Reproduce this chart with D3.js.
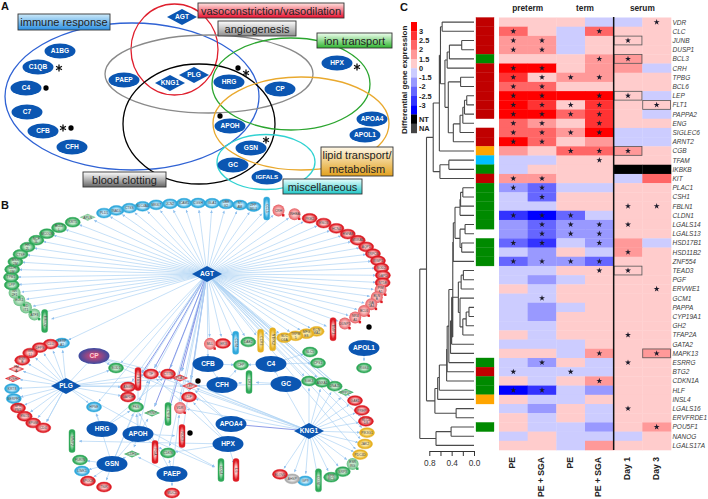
<!DOCTYPE html>
<html>
<head>
<meta charset="utf-8">
<script src="https://cdn.jsdelivr.net/npm/d3@7"></script>
<style>
  html, body { margin: 0; padding: 0; background: #fff; }
  svg { display: block; }
  text { font-family: "Liberation Sans", Arial, sans-serif; }
</style>
</head>
<body>
<div id="chart"></div>
<script>
// ---- panel C data ----
const genes = ["VDR","CLC","JUNB","DUSP1","BCL3","CRH","TPBG","BCL6","LEP","FLT1","PAPPA2","ENG","SIGLEC6","ARNT2","CGB","TFAM","IKBKB","KIT","PLAC1","CSH1","FBLN1","CLDN1","LGALS14","LGALS13","HSD17B1","HSD11B2","ZNF554","TEAD3","PGF","ERVWE1","GCM1","PAPPA","CYP19A1","GH2","TFAP2A","GATA2","MAPK13","ESRRG","BTG2","CDKN1A","HLF","INSL4","LGALS16","ERVFRDE1","POU5F1","NANOG","LGALS17A"];
const columns = ["PE","PE + SGA","PE ","PE + SGA ","Day 1","Day 3"];
const groups = ["preterm","term","serum"];
const heatValues = [
  [1,1,1,-1,-1,1],[2,1,-1,2,1,1],[1.5,1.5,-1,1,1,1],[1.5,1.5,-1,1,1,1],[1,1,1,1.5,1.5,1],
  [3,3,1,1.5,1.5,-1],[2.5,1,1.5,1.5,1,1],[2,2,1,1,1,1],[3,3,3,3,1,-1],[3,2.5,1,2.5,1,1],
  [3,3,2,2.5,1,-1],[2,1.5,1,2.5,1,1],[2,2,1.5,3,-1,-1],[3,2,1,1.5,-1,-1],[1.5,1,2,2,1.5,1],
  [-1,-1,1,1,1,1],[-1,1,1,1,"NT","NT"],[1.5,1.5,1,1,-1,2],[-1.5,-2,-1,-1,1,1],[-1,-2,1,1,1,1],
  [-1,-1,1,1,1,1],[-2.5,-3,-2,-1,1,1],[-1.5,-2,-1.5,-1.5,1,1],[-1.5,-2,-1.5,-1.5,1,1],[-2,-2.5,-1,-1.5,1.5,-1],
  [-1,-1.5,1,-1,1.5,1],[-2,-1.5,-1.5,-2,1,1],[-1,-1,1,1,1,1],[-1,-1.5,-1,1,1,1],[1,-1,1,1,1,1],
  [-1,-1,1,1,1,1],[-1,-1.5,-1,1,1,1],[-1,-1.5,1,1,1,1],[-1,-1,1,1,1,1],[1,-1,1,1,1,1],
  [-1,-1,-1,1,1,1],[1,1,-1,1.5,1,1.5],[-1,-1.5,1,-1,1,1],[-1,-1,-1,-1,1,1],[1,-1,1,1.5,1,1],
  [-3,-2.5,-1,-1.5,1,1],[1,-1,-1,1,1,1],[-1,-1.5,1,-1,1,1],[1,-1,1,-1,1,1],[1,-1,-1,-1.5,1,1.5],
  [-1,1,-1,-1,-1,1],[1,1,-1,1.5,1,1]
];
// columns holding a star, same order as genes
const starCols = [[5],[0,3],[0,1,4],[0,1],[3,4],[0,1],[0,1,2,3],[0,1],[0,1,3,4],[0,1,2,3,5],[0,1,2,3],[0,1,3],[0,1,2,3],[0,1],[2,3,4],[3],[],[0,1],[0,1],[1],[4,5],[0,1,2],[1,2,3,4],[1,2,3],[0,1,3],[4],[0,1,2,3],[3,4],[],[5],[1],[],[],[],[4],[],[3,5],[1,4],[0,2],[3],[0,1],[],[4],[],[5],[],[]];
const boxCells = [["JUNB",4],["BCL3",4],["LEP",4],["FLT1",5],["CGB",4],["TEAD3",4],["MAPK13",5]];
const geneClass = ["r","r","r","r","g","r","r","r","r","r","r","","r","r","o","c","g","r","g","g","g","g","g","","g","g","g","","","","","","","","","","","g","r","g","g","o","","","g","",""];
const legendLevels = [3,2.5,2,1.5,1,-1,-1.5,-2,-2.5,-3,"NT","NA"];
const legendLabels = ["3","2.5","2","1.5","0","-1.5","-2","-2.5","-3"];
const levelColors = ["#ff0000","#ff3333","#ff6666","#ff9999","#ffcccc","#ccccff","#9999ff","#6666ff","#3333ff","#0000ff","#000000","#444444"];
const dendroTicks = [0, 0.2, 0.4, 0.6, 0.8];
// merge heights read from the tree, [height, child, child...]
const dendroTree = [0.97,
  [0.85,
    [0.73,
      [0.62,
        [0.6, [0.57,"VDR","CLC"],
          [0.52,
            [0.48,[0.44,[0.22,"JUNB","DUSP1"],"BCL3"],"CRH"],
            [0.46,[0.24,"TPBG","BCL6"],
              [0.37,[0.25,[0.2,[0.17,[0.13,"LEP","FLT1"],"PAPPA2"],"ENG"],"SIGLEC6"],"ARNT2"]]]],
        "CGB"],
      [0.61,[0.45,"TFAM","IKBKB"],"KIT"]],
    [0.7,
      [0.65,
        [0.62,
          [0.49,
            [0.48,
              [0.45,
                [0.38,
                  [0.37,
                    [0.34,
                      [0.25,[0.24,[0.2,"PLAC1","CSH1"],"FBLN1"],"CLDN1"],
                      [0.25,[0.16,"LGALS14","LGALS13"],[0.22,"HSD17B1","HSD11B2"]]],
                    "ZNF554"],
                  [0.42,
                    [0.4,
                      [0.28,
                        [0.23,[0.19,"TEAD3","PGF"],"ERVWE1"],
                        [0.25,"GCM1",[0.2,[0.14,[0.09,"PAPPA","CYP19A1"],"GH2"],"TFAP2A"]]],
                      "GATA2"],
                    "MAPK13"]],
                "ESRRG"],
              "BTG2"],
            "CDKN1A"],
          "HLF"],
        "INSL4"],
      [0.32,"LGALS16","ERVFRDE1"]]],
  [0.68,[0.41,"POU5F1","NANOG"],"LGALS17A"]];

// ---- panel A data ----
const vennSets = ["immune","vaso","angio","clotting","ion","lipid","misc"];
const vennLabels = ["immune response","vasoconstriction/vasodilation","angiogenesis","blood clotting","ion transport","lipid transport/|metabolism","miscellaneous"];
const vennEllipseNodes = ["A1BG","C1QB","C4","C7","CFB","CFH","PAEP","HRG","CP","APOH","GSN","GC","IGFALS","HPX","APOA4","APOL1"];
const vennDiamondNodes = ["AGT","KNG1","PLG"];

// ---- panel B data ----
const ringLeft = ["TMED2","ATF3","DD|IT1","ELK1","NR|2F1","LPP","TPM1","CDH|1M","MSX|2M","CTSF","HK|2L","NCF|5L","MCOLN","BCL2|L","KRT5","APLN"];
const ringTop = ["PLD1","INADL","CTSS","SLC4A4","MKI67","JCN2","ICAM1","CGSH","GLA1","UBE|V2","ST|AM","ZFP|36L1","CCL5"];
const ringRight = ["CRH","INHBA","PKM2","ENO3","HCN4","HSPA8","MXRA5","AQP1","TRPC6","WWP1","SOD2","GAPD","NT5E","PIM|A1","BLN|B","GA|TA4","BCL6","NR4|A1","DUSP1","TIMP3"];
const ringBottom = ["KCN|MA1","MFG|E8","TRPM|5","SLC|O4A","NTRK2","CCR3","DAB2","CD74","IER3","MLL"];
const ringPlg = ["SERP|A1","CLU","DFPS","GR|LI","KNT|B","PM|A","F2SH","KRT8","SERPF1","SPR|PM1","ENO1","BPGM","CD4"];
const ringKng = ["SGK3","ANXA1","DNAJ5","PPP1C","GAB1","PREP","SLC2|D8","PIK3G1","JAK2","PDC4D","ESR|RG","SRPX","SPR|RC3","CD38","GP9","AHSP","ELOVL"];
const hubEllipses = ["CFB","CFH","C4","GC","HRG","APOH","APOA4","HPX","GSN","PAEP","APOL1"];
const hubDiamonds = ["AGT","PLG","KNG1"];
const looseNodes = ["SOD1","PTGS","TF","CTTN","PLAT","LEP","LTF","ASGR","GAPDH","HPSE","FKS","PRNP","CYP4","VDR","NOS3","FGA","CDKN","CDH1","MMP2","FURIN","LIMK1","SPOCK","TNIK","MUC1","COL4","IL6","CFP","CR2","SLC5","CPS1","RGS4"];
const tallNodes = ["NTRK2","CCR3","CD74","CCL5","TIMP3","TMED2","PTGS","CYP4","NOS3","FGA","MMP2","COL4","IL6","CR2","CD38"];
const paleNodes = ["CRH","INHBA","PIM|A1","BLN|B","GA|TA4","BCL6","NR4|A1","DUSP1","MLL","VDR","NR|2F1","DD|IT1","ATF3","ELK1","ESR|RG","APLN"];
const diamondNodes = ["PM|A","F2SH","PLAT","LEP","PRNP","CDH1","PPP1C","APLN"];
const nodeKinds = {
  red: ["SOD2","PTGS","TF","CTTN","PLAT","LEP","LTF","ASGR","GAPDH","VDR","NOS3","FGA","SPOCK","TNIK","MUC1","IL6","IER3","MLL","GAB1","PREP","SLC2|D8","ELOVL"],
  green: ["SOD1","FKS","PRNP","CYP4","CDKN","CDH1","MMP2","FURIN","COL4","CFP","CR2","SLC5","CPS1","RGS4","DAB2","SGK3","ANXA1","DNAJ5","PPP1C","ESR|RG","SRPX","SPR|RC3","CD38"],
  blue: ["HPSE","LIMK1","CD74","GP9","SERP|A1","KRT8","SERPF1"],
  gold: ["KCN|MA1","MFG|E8","TRPM|5","SLC|O4A","NTRK2","CCR3","PIK3G1","JAK2","PDC4D"],
  gray: ["AHSP"]
};
// hub -> loose partner edges
const hubEdges = [
  ["AGT","TF"],["AGT","CTTN"],["AGT","PLAT"],["AGT","LEP"],["AGT","LTF"],["AGT","PTGS"],["AGT","FKS"],["AGT","PRNP"],["AGT","CYP4"],["AGT","VDR"],["AGT","NOS3"],["AGT","FGA"],["AGT","CDKN"],["AGT","GAPDH"],["AGT","ASGR"],["AGT","SOD1"],["AGT","SGK3"],["AGT","ANXA1"],["AGT","DNAJ5"],["AGT","PPP1C"],["AGT","GAB1"],["AGT","PREP"],["AGT","SLC2|D8"],["AGT","PIK3G1"],["AGT","JAK2"],["AGT","PDC4D"],["AGT","CFB"],["AGT","HPSE"],["AGT","SERP|A1"],
  ["PLG","CP"],["PLG","TF"],["PLG","PLAT"],["PLG","LEP"],["PLG","SOD1"],["PLG","CD4"],["PLG","COL4"],["PLG","HPSE"],["PLG","ASGR"],["PLG","GAPDH"],
  ["KNG1","LEP"],["KNG1","PLAT"],["KNG1","TF"],["KNG1","LTF"],["KNG1","VDR"],["KNG1","APOA4"],["KNG1","C4"],["KNG1","CTTN"],
  ["CP","TF"],["CP","SOD1"],["CP","LTF"],["CP","CTTN"],
  ["CFB","CFP"],["CFB","CFH"],["CFH","CFP"],["CFH","CR2"],["C4","CFP"],["C4","CPS1"],["C4","SLC5"],["GC","LEP"],["GC","CR2"],
  ["HRG","HPSE"],["HRG","FKS"],["HRG","CTTN"],["APOH","COL4"],["APOH","PTGS"],["APOH","TF"],["APOH","PRNP"],["APOH","FKS"],["APOH","NOS3"],["APOH","CDKN"],["APOH","CDH1"],
  ["APOA4","CTTN"],["APOA4","LEP"],["HPX","LTF"],["HPX","TF"],["HPX","CDKN"],["HPX","MMP2"],["HPX","IL6"],
  ["GSN","FURIN"],["GSN","LIMK1"],["GSN","SPOCK"],["GSN","TNIK"],["GSN","CDH1"],["GSN","HPSE"],["GSN","FKS"],["GSN","TF"],["GSN","APOH"],
  ["PAEP","MUC1"],["PAEP","CDH1"],["PAEP","CDKN"],["PAEP","FKS"],["PAEP","VDR"],["APOL1","RGS4"]
];
const strongEdges = ["AGT-TF","AGT-LEP","AGT-PTGS","AGT-PLAT","KNG1-APOA4","AGT-PRNP","AGT-CYP4"];
const blackDots = ["dot1","dot2","dot3"];

// ---- layout ----
const width = 708, height = 499;
const svg = d3.select("#chart").append("svg").attr("width", width).attr("height", height);
const defs = svg.append("defs");

function panelLetter(t, x, y) {
  svg.append("text").attr("x", x).attr("y", y).text(t)
    .style("font-size", "11px").style("font-weight", "bold").attr("fill", "#111");
}
panelLetter("A", 1, 10);
panelLetter("B", 1, 209);
panelLetter("C", 400, 11);

// ================= panel A =================
const vennLayout = {
  immune:   {cx: 132, cy: 96.5, rx: 127, ry: 73.5, color: "#2f62d4", box: [18, 14, 92, 16], top: "#cdeaf9", bottom: "#2b8fe2"},
  vaso:     {cx: 174.5, cy: 49.5, rx: 43.5, ry: 45.5, color: "#df1f2d", box: [198, 3, 146, 15], top: "#ffe4e0", bottom: "#e80f2f"},
  angio:    {cx: 209, cy: 74, rx: 104, ry: 39, color: "#8a8a8a", box: [218, 21, 78, 15], top: "#ffffff", bottom: "#8e8e8e"},
  clotting: {cx: 199, cy: 124, rx: 76, ry: 60, color: "#000000", box: [83, 172, 83, 15], top: "#ffffff", bottom: "#666666"},
  ion:      {cx: 291, cy: 84, rx: 79, ry: 46, color: "#2ba52f", box: [317, 33, 75, 15], top: "#f0fff0", bottom: "#2fb52f"},
  lipid:    {cx: 301, cy: 123.5, rx: 88, ry: 46.5, color: "#e9a92e", box: [321, 147, 72, 29], top: "#fff8e8", bottom: "#e2a11e"},
  misc:     {cx: 266, cy: 162, rx: 49, ry: 27.5, color: "#31d2d2", box: [283, 179, 79, 15], top: "#eaffff", bottom: "#1fc6c6"}
};
const gA = svg.append("g");
gA.selectAll("ellipse.set").data(vennSets).join("ellipse")
  .attr("class", "set")
  .attr("cx", d => vennLayout[d].cx).attr("cy", d => vennLayout[d].cy)
  .attr("rx", d => vennLayout[d].rx).attr("ry", d => vennLayout[d].ry)
  .attr("fill", "none").attr("stroke", d => vennLayout[d].color).attr("stroke-width", 1.3);

const vennNodePos = {
  A1BG:[60,51],C1QB:[38,67],C4:[26,88],C7:[27,112],CFB:[43,131],CFH:[72,147],PAEP:[124,80],HRG:[229,82],CP:[280,89],
  APOH:[230,126],GSN:[251,148],GC:[233,165],IGFALS:[267,177],HPX:[337,63],APOA4:[372,119],APOL1:[365,135],
  AGT:[182,17],KNG1:[170,83],PLG:[194,75]
};
const hubBlue = "#0b56b2";
gA.selectAll("ellipse.prot").data(vennEllipseNodes).join("ellipse")
  .attr("class", "prot").attr("fill", hubBlue)
  .attr("cx", d => vennNodePos[d][0]).attr("cy", d => vennNodePos[d][1])
  .attr("rx", 15.5).attr("ry", 7.5);
gA.selectAll("path.prot").data(vennDiamondNodes).join("path")
  .attr("class", "prot").attr("fill", hubBlue)
  .attr("d", d => { let p = vennNodePos[d]; return "M" + (p[0]-15) + "," + p[1] + "L" + p[0] + "," + (p[1]-8) + "L" + (p[0]+15) + "," + p[1] + "L" + p[0] + "," + (p[1]+8) + "Z"; });
gA.selectAll("text.prot").data(vennEllipseNodes.concat(vennDiamondNodes)).join("text")
  .attr("class", "prot").attr("x", d => vennNodePos[d][0]).attr("y", d => vennNodePos[d][1] + 2.3)
  .attr("text-anchor", "middle").attr("fill", "#fff")
  .style("font-size", d => d == "IGFALS" ? "6.2px" : "6.6px").style("font-weight", "bold").text(d => d);

// venn title boxes
vennSets.forEach((s, i) => {
  let l = vennLayout[s], b = l.box, id = "grad-" + s;
  let g = defs.append("linearGradient").attr("id", id).attr("x1", 0).attr("y1", 0).attr("x2", 0).attr("y2", 1);
  g.append("stop").attr("offset", "0%").attr("stop-color", l.top);
  g.append("stop").attr("offset", "100%").attr("stop-color", l.bottom);
  gA.append("rect").attr("x", b[0]).attr("y", b[1]).attr("width", b[2]).attr("height", b[3])
    .attr("fill", "url(#" + id + ")").attr("stroke", "#333").attr("stroke-width", 0.9);
  let lines = vennLabels[i].split("|");
  lines.forEach((t, k) => {
    gA.append("text").attr("x", b[0] + b[2] / 2).attr("y", b[1] + 11.5 + k * 14)
      .attr("text-anchor", "middle").attr("fill", "#222").style("font-size", "11px").text(t);
  });
});

const vennMarks = [["star",59,68],["dot",46,88],["star",63,128],["dot",71,128],["dot",238,68],["star",246,73],["dot",220,116],["star",266,140],["star",357,67]];
const asterisk = d3.symbol().type(d3.symbolAsterisk).size(32);
gA.selectAll("path.mark").data(vennMarks).join("path")
  .attr("class", "mark")
  .attr("transform", d => "translate(" + d[1] + "," + d[2] + ")")
  .attr("d", d => d[0] == "star" ? asterisk() : d3.symbol().type(d3.symbolCircle).size(22)())
  .attr("stroke", d => d[0] == "star" ? "#111" : "none").attr("stroke-width", 1.3)
  .attr("fill", "#000");

// ================= panel B =================
const gB = svg.append("g");

// where each ring sits: centre, radii, start and end angle in degrees
const ringLayout = [
  {names: ringLeft, cx: 197, cy: 278, rx: 186, ry: 75, from: 145, to: 234, kind: "green"},
  {names: ringTop, cx: 197, cy: 278, rx: 186, ry: 75, from: 240, to: 292, kind: "blue"},
  {names: ringRight, cx: 197, cy: 278, rx: 186, ry: 75, from: 296, to: 403, kind: "red"},
  {names: ringBottom, cx: 197, cy: 290, rx: 186, ry: 54, from: 50, to: 86, kind: "gold"},
  {names: ringPlg, cx: 62, cy: 387, rx: 50, ry: 44, from: 270, to: 112, kind: "red"},
  {names: ringKng, cx: 309, cy: 431, rx: 58, ry: 50, from: -90, to: 120, kind: "green"}
];
const nodePos = {
  AGT:[207,274],PLG:[66,386],KNG1:[309,431],CP:[94,356],CFB:[208,364],CFH:[222,385],C4:[271,364],GC:[286,384],HRG:[102,429],APOH:[138,434],APOA4:[231,424],HPX:[228,444],GSN:[112,464],PAEP:[172,474],APOL1:[364,348],
  SOD1:[116,368],PTGS:[138,379],TF:[151,374],CTTN:[168,374],PLAT:[180,378],LEP:[190,386],LTF:[189,397],ASGR:[128,387],GAPDH:[128,397],HPSE:[94,407],FKS:[136,407],PRNP:[152,413],CYP4:[168,414],VDR:[180,408],NOS3:[182,436],FGA:[155,452],CDKN:[168,453],CDH1:[132,454],MMP2:[72,441],FURIN:[80,460],LIMK1:[82,471],SPOCK:[88,481],TNIK:[104,487],MUC1:[172,493],COL4:[221,470],IL6:[236,470],CFP:[241,365],CR2:[249,382],SLC5:[310,352],CPS1:[318,363],RGS4:[364,368]
};
const nodeKind = {};
ringLayout.forEach(r => {
  let angle = d3.scalePoint().domain(r.names).range([r.from, r.to]);
  r.names.forEach(n => {
    let a = angle(n) * Math.PI / 180;
    nodePos[n] = [r.cx + r.rx * Math.cos(a), r.cy + r.ry * Math.sin(a)];
    nodeKind[n] = r.kind;
  });
});
Object.keys(nodeKinds).forEach(k => nodeKinds[k].forEach(n => { nodeKind[n] = k; }));

const edges = [];
ringLeft.concat(ringTop, ringRight, ringBottom).forEach(n => edges.push(["AGT", n]));
ringPlg.forEach(n => edges.push(["PLG", n]));
ringKng.forEach(n => edges.push(["KNG1", n]));
hubEdges.forEach(e => edges.push(e));

const kindColors = {
  red:   {core: "#f9c4c4", rim: "#dd1c24"},
  green: {core: "#c6e6cc", rim: "#2ea858"},
  blue:  {core: "#c6e8f8", rim: "#2fa8dc"},
  gold:  {core: "#f9e8a8", rim: "#e6b122"},
  gray:  {core: "#e8e8e8", rim: "#aaaaaa"}
};
Object.keys(kindColors).forEach(k => {
  let g = defs.append("radialGradient").attr("id", "node-" + k);
  g.append("stop").attr("offset", "35%").attr("stop-color", kindColors[k].core);
  g.append("stop").attr("offset", "85%").attr("stop-color", kindColors[k].rim);
  let pale = defs.append("radialGradient").attr("id", "pale-" + k);
  pale.append("stop").attr("offset", "30%").attr("stop-color", kindColors[k].core);
  pale.append("stop").attr("offset", "100%").attr("stop-color", d3.interpolateRgb(kindColors[k].core, kindColors[k].rim)(0.6));
});
defs.append("marker").attr("id", "arrow").attr("viewBox", "0 0 6 6").attr("refX", 6).attr("refY", 3)
  .attr("markerWidth", 4).attr("markerHeight", 4).attr("orient", "auto")
  .append("path").attr("d", "M0,0L6,3L0,6Z").attr("fill", "#8fbfee");
const cpGrad = defs.append("radialGradient").attr("id", "cp-grad");
cpGrad.append("stop").attr("offset", "0%").attr("stop-color", "#e8456b");
cpGrad.append("stop").attr("offset", "100%").attr("stop-color", "#3a4aa0");

// edges stop a little short of the target so the arrow stays visible
function edgeEnd(e) {
  let a = nodePos[e[0]], b = nodePos[e[1]];
  let dx = b[0] - a[0], dy = b[1] - a[1], len = Math.sqrt(dx * dx + dy * dy) || 1;
  let gap = 7;
  return [b[0] - dx / len * gap, b[1] - dy / len * gap];
}
gB.selectAll("line.edge").data(edges).join("line")
  .attr("class", "edge")
  .attr("x1", d => nodePos[d[0]][0]).attr("y1", d => nodePos[d[0]][1])
  .attr("x2", d => edgeEnd(d)[0]).attr("y2", d => edgeEnd(d)[1])
  .attr("stroke", d => strongEdges.indexOf(d[0] + "-" + d[1]) >= 0 ? "#7f8fe4" : "#aed2f3")
  .attr("stroke-width", d => strongEdges.indexOf(d[0] + "-" + d[1]) >= 0 ? 0.9 : 0.7)
  .attr("marker-end", "url(#arrow)");

const smallNodes = ringLeft.concat(ringTop, ringRight, ringBottom, ringPlg, ringKng, looseNodes);
function nodeFill(n) {
  return "url(#" + (paleNodes.indexOf(n) >= 0 ? "pale-" : "node-") + nodeKind[n] + ")";
}
const nodeG = gB.selectAll("g.node").data(smallNodes).join("g")
  .attr("class", "node")
  .attr("transform", d => "translate(" + nodePos[d][0] + "," + nodePos[d][1] + ")");
nodeG.each(function (n) {
  let g = d3.select(this), rim = kindColors[nodeKind[n]].rim;
  if (tallNodes.indexOf(n) >= 0) {
    g.append("rect").attr("x", -3).attr("y", -11.5).attr("width", 6).attr("height", 23).attr("rx", 2.5)
      .attr("fill", nodeFill(n)).attr("stroke", rim).attr("stroke-width", 0.4);
  } else if (diamondNodes.indexOf(n) >= 0) {
    g.append("path").attr("d", "M-8,0L0,-3.5L8,0L0,3.5Z").attr("fill", nodeFill(n));
  } else if (paleNodes.indexOf(n) >= 0) {
    g.append("ellipse").attr("rx", 6).attr("ry", 6).attr("fill", nodeFill(n));
    // the small square tag pale nodes carry at lower right
    g.append("rect").attr("x", 3.5).attr("y", 3.5).attr("width", 2.4).attr("height", 2.4).attr("fill", rim);
  } else {
    g.append("ellipse").attr("rx", 7.5).attr("ry", 4.9).attr("fill", nodeFill(n))
      .attr("stroke", rim).attr("stroke-width", 0.5);
  }
});
nodeG.filter(n => tallNodes.indexOf(n) < 0).each(function (n) {
  let lines = n.split("|"), g = d3.select(this);
  lines.forEach((t, k) => {
    g.append("text").attr("y", 1.2 + (k - (lines.length - 1) / 2) * 3.8)
      .attr("text-anchor", "middle").attr("fill", "#444").style("font-size", "3.3px").text(t);
  });
});
nodeG.filter(n => tallNodes.indexOf(n) >= 0).append("text")
  .attr("transform", "rotate(90)").attr("y", 1.1)
  .attr("text-anchor", "middle").attr("fill", "#444").style("font-size", "3.3px").text(d => d);

// blue hubs
gB.selectAll("ellipse.hub").data(hubEllipses).join("ellipse")
  .attr("class", "hub").attr("fill", hubBlue)
  .attr("cx", d => nodePos[d][0]).attr("cy", d => nodePos[d][1])
  .attr("rx", 15.5).attr("ry", 8);
gB.selectAll("path.hub").data(hubDiamonds).join("path")
  .attr("class", "hub").attr("fill", hubBlue)
  .attr("d", d => { let p = nodePos[d]; return "M" + (p[0]-15) + "," + p[1] + "L" + p[0] + "," + (p[1]-8) + "L" + (p[0]+15) + "," + p[1] + "L" + p[0] + "," + (p[1]+8) + "Z"; });
gB.append("ellipse").attr("cx", nodePos.CP[0]).attr("cy", nodePos.CP[1]).attr("rx", 15.5).attr("ry", 8)
  .attr("fill", "url(#cp-grad)");
gB.append("text").attr("x", nodePos.CP[0]).attr("y", nodePos.CP[1] + 2.3).attr("text-anchor", "middle")
  .attr("fill", "#fbd0d8").style("font-size", "6.6px").style("font-weight", "bold").text("CP");
gB.selectAll("text.hub").data(hubEllipses.concat(hubDiamonds)).join("text")
  .attr("class", "hub").attr("x", d => nodePos[d][0]).attr("y", d => nodePos[d][1] + 2.3)
  .attr("text-anchor", "middle").attr("fill", "#fff")
  .style("font-size", "6.6px").style("font-weight", "bold").text(d => d);

const dotPos = {dot1: [198, 381], dot2: [190, 433], dot3: [369, 327]};
gB.selectAll("circle.dot").data(blackDots).join("circle")
  .attr("class", "dot").attr("cx", d => dotPos[d][0]).attr("cy", d => dotPos[d][1]).attr("r", 2.7).attr("fill", "#000");

// ================= panel C =================
const gC = svg.append("g");
const colColor = d3.scaleOrdinal().domain(legendLevels).range(levelColors);
const classColor = {r: "#c00000", g: "#008a00", o: "#ffa500", c: "#00bfff"};

const yRow = d3.scaleBand().domain(genes).range([17.5, 450]);
const xCol = d3.scaleBand().domain(columns).range([499, 671]);
const cells = [];
heatValues.forEach((row, i) => row.forEach((v, j) => cells.push({gene: genes[i], col: columns[j], v: v})));

gC.selectAll("rect.strip").data(genes.filter((g, i) => geneClass[i])).join("rect")
  .attr("class", "strip")
  .attr("x", 476).attr("width", 18)
  .attr("y", d => yRow(d)).attr("height", yRow.bandwidth())
  .attr("fill", d => classColor[geneClass[genes.indexOf(d)]])
  .attr("stroke", d => classColor[geneClass[genes.indexOf(d)]]).attr("stroke-width", 0.3);

gC.selectAll("rect.cell").data(cells).join("rect")
  .attr("class", "cell")
  .attr("x", d => xCol(d.col)).attr("y", d => yRow(d.gene))
  .attr("width", xCol.bandwidth() + 0.3).attr("height", yRow.bandwidth() + 0.3)
  .attr("fill", d => colColor(d.v));

gC.selectAll("rect.box").data(boxCells).join("rect")
  .attr("class", "box")
  .attr("x", d => xCol(columns[d[1]]) + 0.4).attr("y", d => yRow(d[0]) + 0.2)
  .attr("width", xCol.bandwidth() - 0.8).attr("height", yRow.bandwidth() - 0.4)
  .attr("fill", "none").attr("stroke", "#555").attr("stroke-width", 0.8);

const starPoints = [];
starCols.forEach((cols, i) => cols.forEach(j => starPoints.push([genes[i], columns[j]])));
const starSym = d3.symbol().type(d3.symbolStar).size(11);
gC.selectAll("path.star").data(starPoints).join("path")
  .attr("class", "star").attr("d", starSym())
  .attr("fill", "#1a1a2a")
  .attr("transform", d => "translate(" + (xCol(d[1]) + xCol.bandwidth() / 2) + "," + (yRow(d[0]) + yRow.bandwidth() / 2) + ")");

gC.append("line").attr("x1", xCol(columns[4])).attr("x2", xCol(columns[4]))
  .attr("y1", 17).attr("y2", 450).attr("stroke", "#111").attr("stroke-width", 1.5);

gC.selectAll("text.gene").data(genes).join("text")
  .attr("class", "gene").attr("x", 672.5)
  .attr("y", d => yRow(d) + yRow.bandwidth() / 2 + 2.4)
  .attr("fill", "#3a3a3a").style("font-size", "6.5px").style("font-style", "italic").text(d => d);

// group headers over column pairs
const headerX = d3.scalePoint().domain(groups).range([xCol(columns[0]) + xCol.bandwidth(), xCol(columns[4]) + xCol.bandwidth()]);
gC.selectAll("text.head").data(groups).join("text")
  .attr("class", "head").attr("x", d => headerX(d)).attr("y", 11)
  .attr("text-anchor", "middle").attr("fill", "#222")
  .style("font-size", "8.3px").style("font-weight", "bold").text(d => d);

gC.selectAll("text.colname").data(columns).join("text")
  .attr("class", "colname")
  .attr("transform", d => "translate(" + (xCol(d) + xCol.bandwidth() / 2 + 2) + ",457) rotate(-90)")
  .attr("text-anchor", "end").attr("fill", "#222")
  .style("font-size", "8.6px").style("font-weight", "bold").text(d => d.trim());

// legend
const yLegend = d3.scaleBand().domain(legendLevels).range([22, 133]);
gC.selectAll("rect.leg").data(legendLevels).join("rect")
  .attr("class", "leg").attr("x", 411).attr("width", 6)
  .attr("y", d => yLegend(d)).attr("height", yLegend.bandwidth() + 0.2)
  .attr("fill", d => colColor(d));
gC.selectAll("text.leg").data(legendLabels).join("text")
  .attr("class", "leg").attr("x", 419)
  .attr("y", (d, i) => yLegend(legendLevels[i]) + yLegend.bandwidth() + 2.6)
  .attr("fill", "#222").style("font-size", "7.4px").style("font-weight", "bold").text(d => d);
gC.selectAll("text.legna").data(["NT", "NA"]).join("text")
  .attr("class", "legna").attr("x", 419)
  .attr("y", d => yLegend(d) + yLegend.bandwidth() / 2 + 2.6)
  .attr("fill", "#222").style("font-size", "7.4px").style("font-weight", "bold").text(d => d);
gC.append("text").attr("transform", "translate(407,134) rotate(-90)")
  .attr("fill", "#222").style("font-size", "8.1px").style("font-weight", "bold")
  .text("Differential gene expression");

// dendrogram
const xDendro = d3.scaleLinear().domain([0, 0.8]).range([474, 429.3]);
const root = d3.hierarchy(dendroTree, d => Array.isArray(d) ? d.slice(1) : null);
root.eachAfter(n => {
  if (n.children) {
    n.h = n.data[0];
    n.yPos = (n.children[0].yPos + n.children[n.children.length - 1].yPos) / 2;
  } else {
    n.h = 0;
    n.yPos = yRow(n.data) + yRow.bandwidth() / 2;
  }
});
const dendroPath = d3.path();
root.each(n => {
  if (!n.children) return;
  let ys = n.children.map(c => c.yPos);
  dendroPath.moveTo(xDendro(n.h), d3.min(ys));
  dendroPath.lineTo(xDendro(n.h), d3.max(ys));
  n.children.forEach(c => {
    dendroPath.moveTo(xDendro(n.h), c.yPos);
    dendroPath.lineTo(xDendro(c.h), c.yPos);
  });
});
gC.append("path").attr("d", dendroPath.toString())
  .attr("fill", "none").attr("stroke", "#4a4a4a").attr("stroke-width", 1.1);

const axisG = gC.append("g").attr("transform", "translate(0,451)")
  .call(d3.axisBottom(xDendro).tickValues(dendroTicks).tickSize(5).tickSizeOuter(0)
    .tickFormat(d => Math.round(d * 10) % 4 == 0 ? d.toFixed(1) : ""));
axisG.selectAll("text").attr("fill", "#333").attr("y", 9).style("font-size", "8.3px");
axisG.selectAll("line, path").attr("stroke", "#333");
</script>
</body>
</html>
